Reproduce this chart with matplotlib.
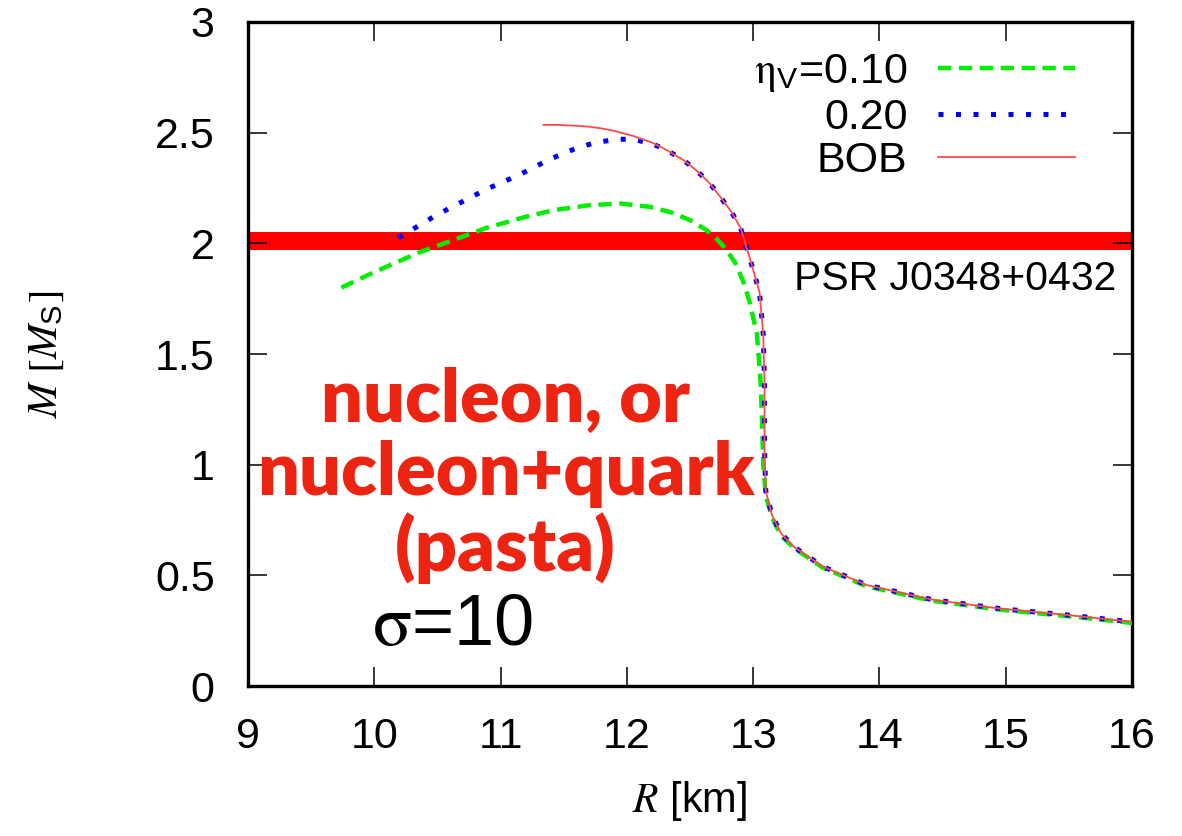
import matplotlib
matplotlib.use("Agg")
import matplotlib.pyplot as plt

plt.rcParams["font.family"] = ["Liberation Sans", "DejaVu Sans"]
plt.rcParams["mathtext.fontset"] = "stix"

# mass-radius curves (R in km, M in solar masses)
bob_R = [11.34, 11.45, 11.6, 11.7, 11.79, 11.9, 12.05, 12.2, 12.32, 12.45, 12.55, 12.65,
         12.74, 12.83, 12.9, 12.97, 13.05, 13.08, 13.09, 13.09, 13.1, 13.15, 13.22, 13.32,
         13.55, 13.9, 14.42, 14.95, 15.5, 16.0]
bob_M = [2.535, 2.535, 2.531, 2.527, 2.52, 2.508, 2.485, 2.455, 2.42, 2.375, 2.33, 2.275,
         2.21, 2.14, 2.07, 1.94, 1.78, 1.59, 1.37, 1.07, 0.88, 0.77, 0.69, 0.63,
         0.54, 0.456, 0.39, 0.35, 0.32, 0.29]

eta20_R = [10.19, 10.5, 10.89, 11.15, 11.39, 11.6, 11.75, 11.92, 12.05, 12.2, 12.32, 12.45,
           12.55, 12.65, 12.74, 12.83, 12.9, 12.97, 13.05, 13.08, 13.09, 13.09, 13.1, 13.15,
           13.22, 13.32, 13.55, 13.9, 14.42, 14.95, 15.5, 16.0]
eta20_M = [2.025, 2.13, 2.245, 2.31, 2.38, 2.43, 2.455, 2.47, 2.47, 2.45, 2.42, 2.375,
           2.33, 2.275, 2.21, 2.14, 2.07, 1.94, 1.78, 1.59, 1.37, 1.07, 0.88, 0.77,
           0.69, 0.63, 0.54, 0.456, 0.39, 0.35, 0.32, 0.29]

eta10_R = [9.74, 10.0, 10.36, 10.65, 10.89, 11.2, 11.42, 11.7, 11.95, 12.18, 12.35, 12.5,
           12.63, 12.72, 12.79, 12.86, 12.92, 12.97, 13.03, 13.06, 13.07, 13.08, 13.1,
           13.15, 13.22, 13.32, 13.55, 13.9, 14.42, 14.95, 15.5, 16.0]
eta10_M = [1.80, 1.87, 1.96, 2.02, 2.07, 2.12, 2.15, 2.172, 2.18, 2.165, 2.14, 2.105,
           2.06, 2.015, 1.97, 1.91, 1.83, 1.74, 1.59, 1.37, 1.2, 1.0, 0.86,
           0.76, 0.68, 0.625, 0.535, 0.45, 0.385, 0.345, 0.315, 0.285]

psr_lo, psr_hi = 1.97, 2.05
xticks = [9, 10, 11, 12, 13, 14, 15, 16]
yticks = [0, 0.5, 1, 1.5, 2, 2.5, 3]
ytick_labels = ["0", "0.5", "1", "1.5", "2", "2.5", "3"]

fig = plt.figure(figsize=(11.82, 8.36), dpi=100)
ax = fig.add_axes([0.2098, 0.1794, 0.9577 - 0.2098, 0.9737 - 0.1794])

ax.axhspan(psr_lo, psr_hi, color="#ff0000", lw=0, zorder=1)
l10, = ax.plot(eta10_R, eta10_M, color="#00ee00", lw=3.2, dashes=(3.0, 1.7), zorder=3)
l20, = ax.plot(eta20_R, eta20_M, color="#0000ff", lw=3.6, dashes=(1.0, 2.5), zorder=4)
lbob, = ax.plot(bob_R, bob_M, color="#ff4a4a", lw=1.3, zorder=5)

ax.set_xlim(9, 16)
ax.set_ylim(0, 3)
ax.set_xticks(xticks)
ax.set_yticks(yticks)
ax.set_yticklabels(ytick_labels)
ax.tick_params(direction="in", length=14, width=1.1, labelsize=31,
               top=True, right=True)
ax.tick_params(axis="y", pad=24)
ax.tick_params(axis="x", pad=22)
for sp in ax.spines.values():
    sp.set_linewidth(2.4)

ax.set_xlabel(r"$R$ [km]", fontsize=30, labelpad=16)
ax.set_ylabel(r"$M\ [M_{\mathregular{S}}]$", fontsize=30, labelpad=64)

leg = ax.legend([l10, l20, lbob],
                [r"$\mathrm{\eta}_{\mathregular{V}}$=0.10", "0.20", "BOB"],
                loc="upper right", bbox_to_anchor=(0.97, 1.0), frameon=False,
                markerfirst=False, fontsize=31, handlelength=3.2,
                handletextpad=0.7, labelspacing=0.08, borderaxespad=0.3)
for t in leg.get_texts():
    t.set_ha("right")

ax.text(15.88, 1.84, "PSR J0348+0432", fontsize=29.5, ha="right", va="center")

ax.text(11.04, 0.95, "nucleon, or\nnucleon+quark\n(pasta)", color="#ee2412",
        fontsize=53, fontweight="heavy", family="Lato", ha="center", va="center",
        linespacing=1.08)
ax.text(9.98, 0.185, r"$\mathrm{\sigma}$=10", fontsize=52, ha="left", va="baseline")

fig.savefig("out.png", dpi=100)
